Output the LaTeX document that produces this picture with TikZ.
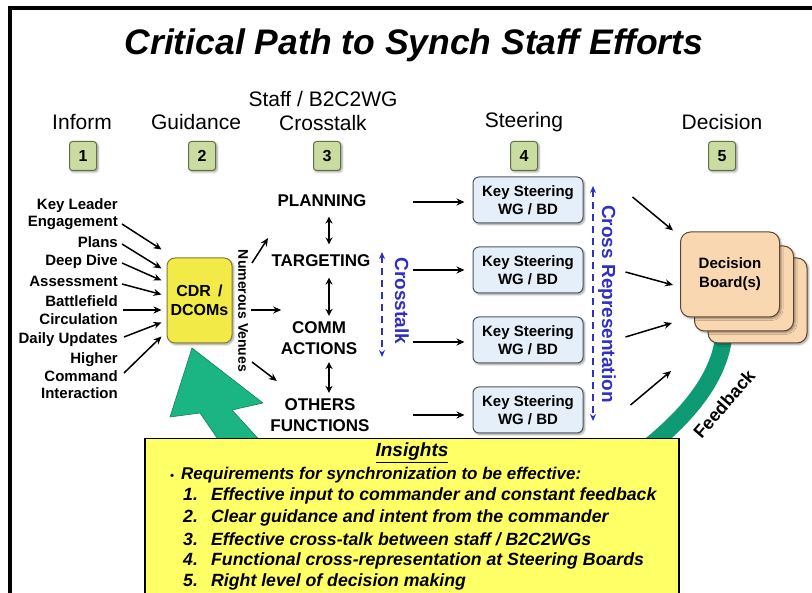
\documentclass[tikz,border=0pt]{standalone}
\usepackage{fontspec}
\setmainfont{Liberation Sans}
\usetikzlibrary{
  arrows.meta,
  calc,
  positioning,
  shadows.blur
}

\definecolor{numgreen}{HTML}{CADCA0}
\definecolor{numedge}{HTML}{5F6F48}
\definecolor{cdryellow}{HTML}{F2EA47}
\definecolor{cdredge}{HTML}{857D2C}
\definecolor{steerblue}{HTML}{E5EFFA}
\definecolor{steeredge}{HTML}{50585F}
\definecolor{decpeach}{HTML}{F9D7B0}
\definecolor{decedge}{HTML}{5C4632}
\definecolor{arrgreen}{HTML}{1BB584}
\definecolor{arredge}{HTML}{11805C}
\definecolor{fbgreen}{HTML}{0E9A72}
\definecolor{insyellow}{HTML}{FFFF66}
\definecolor{xblue}{HTML}{3030C0}

\begin{document}
\begin{tikzpicture}[x=1pt, y=-1pt]

\tikzset{
  hdr/.style={
    align=center,
    font=\fontsize{21}{24}\selectfont
  },
  numbox/.style={
    draw=numedge,
    fill=numgreen,
    rounded corners=3pt,
    line width=1pt,
    minimum width=27pt,
    minimum height=29pt,
    font=\fontsize{16}{18}\selectfont\bfseries,
    blur shadow={shadow xshift=1.5pt, shadow yshift=-1.5pt, shadow blur steps=5}
  },
  inp/.style={
    anchor=east,
    align=right,
    inner sep=0pt,
    font=\fontsize{15}{17.5}\selectfont\bfseries
  },
  func/.style={
    align=center,
    font=\fontsize{17}{21}\selectfont\bfseries
  },
  cdrbox/.style={
    draw=cdredge,
    fill=cdryellow,
    rounded corners=8pt,
    line width=1pt,
    minimum width=65pt,
    minimum height=85pt,
    align=center,
    font=\fontsize{16}{19}\selectfont\bfseries,
    blur shadow={shadow xshift=1.5pt, shadow yshift=-1.5pt, shadow blur steps=5}
  },
  steerbox/.style={
    draw=steeredge,
    fill=steerblue,
    rounded corners=6pt,
    line width=1pt,
    minimum width=110pt,
    minimum height=46pt,
    align=center,
    font=\fontsize{15}{18}\selectfont\bfseries,
    blur shadow={shadow xshift=1.5pt, shadow yshift=-1.5pt, shadow blur steps=5}
  },
  decbox/.style={
    draw=decedge,
    fill=decpeach,
    rounded corners=10pt,
    line width=1pt,
    minimum width=99pt,
    minimum height=85pt,
    align=center,
    font=\fontsize{15}{19}\selectfont\bfseries,
    blur shadow={shadow xshift=1.5pt, shadow yshift=-1.5pt, shadow blur steps=5}
  },
  bluelbl/.style={
    text=xblue,
    rotate=-90,
    font=\fontsize{19}{20}\selectfont\bfseries
  },
  ins/.style={
    anchor=west,
    inner sep=0pt,
    font=\fontsize{17.7}{20}\selectfont\bfseries\itshape
  },
  arr/.style={-{Stealth[length=8pt, width=7pt]}, line width=1.5pt},
  dbl/.style={{Stealth[length=7pt, width=7pt]}-{Stealth[length=7pt, width=7pt]}, line width=1.5pt},
  bluedash/.style={{Stealth[length=7pt, width=6pt]}-{Stealth[length=7pt, width=6pt]}, xblue, line width=1.5pt, dash pattern=on 7pt off 5pt}
}

\useasboundingbox (0,0) rectangle (812,593);

% Frame
\draw[line width=4pt] (10,600) -- (10,8) -- (820,8);

% Title
\node[font=\fontsize{35.5}{40}\selectfont\bfseries\itshape] (title) at (414,45) {Critical Path to Synch Staff Efforts};

% Headers
\node[hdr] (h1) at (82,122)  {Inform};
\node[hdr] (h2) at (196,122) {Guidance};
\node[hdr] (h3) at (323,111) {Staff / B2C2WG\\Crosstalk};
\node[hdr] (h4) at (524,122) {Steering};
\node[hdr] (h5) at (722,122) {Decision};

% Number boxes
\node[numbox] (n1) at (83,156)  {1};
\node[numbox] (n2) at (202,156) {2};
\node[numbox] (n3) at (327,156) {3};
\node[numbox] (n4) at (524,156) {4};
\node[numbox] (n5) at (722,156) {5};

% Nodes inputs
\node[inp] (klead)  at (118,214) {Key Leader\\Engagement};
\node[inp] (plans)  at (118,242) {Plans};
\node[inp] (deep)   at (118,262) {Deep Dive};
\node[inp] (assess) at (118,281) {Assessment};
\node[inp] (battle) at (118,310) {Battlefield\\Circulation};
\node[inp] (daily)  at (118,340) {Daily Updates};
\node[inp] (higher) at (118,376) {Higher\\Command\\Interaction};

% Feedback band and big arrow (behind boxes)
\draw[fbgreen, line width=17pt] (724,335) .. controls (720,372) and (696,410) .. (642,452);
\filldraw[fill=arrgreen, draw=arredge, line width=0.6pt]
  (192,348) -- (263,403) -- (232,410) -- (264,445) -- (222,445) -- (200,413) -- (170,417) -- cycle;

% Node commander
\node[cdrbox] (cdr) at (199.5,300.5) {CDR \,/\\DCOMs};
\node[rotate=-90, font=\fontsize{14}{16}\selectfont\bfseries] (venues) at (243,311) {Numerous Venues};

% Nodes staff functions
\node[func] (plan)   at (322,201) {PLANNING};
\node[func] (targ)   at (321,261) {TARGETING};
\node[func] (comm)   at (319,338) {COMM\\ACTIONS};
\node[func] (others) at (320,415) {OTHERS\\FUNCTIONS};

% Nodes steering
\node[steerbox] (s1) at (528,200) {Key Steering\\WG / BD};
\node[steerbox] (s2) at (528,270) {Key Steering\\WG / BD};
\node[steerbox] (s3) at (528,340) {Key Steering\\WG / BD};
\node[steerbox] (s4) at (528,410) {Key Steering\\WG / BD};

% Nodes decision boards
\node[decbox] (dec3) at (757.5,300.5) {};
\node[decbox] (dec2) at (744,288.5)   {};
\node[decbox] (dec1) at (730,274.5)   {Decision\\Board(s)};

\node[rotate=49, font=\fontsize{18}{20}\selectfont\bfseries] (fb) at (724,404) {Feedback};

% Blue labels
\node[bluelbl] (xtalk) at (402,301) {Crosstalk};
\node[bluelbl] (xrep)  at (607,304) {Cross Representation};
\coordinate (xttop) at (382,252);
\coordinate (xtbot) at (382,357);
\coordinate (xrtop) at (593,186);
\coordinate (xrbot) at (593,421);

% Arrows inputs
\draw[arr] ($(klead.east)+(4,10)$)  -- ($(cdr.west)+(-5,-51)$);
\draw[arr] ($(plans.east)+(4,2)$)   -- ($(cdr.west)+(-5,-32)$);
\draw[arr] ($(deep.east)+(4,1)$)    -- ($(cdr.west)+(-5,-20)$);
\draw[arr] ($(assess.east)+(4,3)$)  -- ($(cdr.west)+(-5,-6)$);
\draw[arr] ($(battle.east)+(5,0)$)  -- ($(cdr.west)+(-5,9.5)$);
\draw[arr] ($(daily.east)+(6,-3)$)  -- ($(cdr.west)+(-5,22)$);
\draw[arr] ($(higher.east)+(6,-3)$) -- ($(cdr.west)+(-5,36)$);

% Arrows venues
\draw[arr] ($(venues.center)+(9,-48)$) -- ($(targ.west)+(0,-23)$);
\draw[arr] ($(venues.center)+(8,-1)$)  -- ($(comm.west)+(4,-28)$);
\draw[arr] ($(venues.center)+(9,51)$)  -- ($(others.west)+(10,-34)$);

% Arrows crosstalk
\draw[dbl, shorten <=6pt, shorten >=7pt] ([xshift=7pt]plan.south) -- ([xshift=8pt]targ.north);
\draw[dbl, shorten <=7pt, shorten >=2pt] ([xshift=8pt]targ.south) -- ([xshift=10pt]comm.north);
\draw[dbl, shorten <=4pt, shorten >=2pt] ([xshift=10pt]comm.south) -- ([xshift=9pt]others.north);
\draw[bluedash] (xttop) -- (xtbot);
\draw[bluedash] (xrtop) -- (xrbot);

% Arrows to steering
\draw[arr] ($(s1.west)+(-60,2)$) -- ($(s1.west)+(-8,2)$);
\draw[arr] ($(s2.west)+(-60,0)$) -- ($(s2.west)+(-8,0)$);
\draw[arr] ($(s3.west)+(-60,2)$) -- ($(s3.west)+(-8,2)$);
\draw[arr] ($(s4.west)+(-60,5)$) -- ($(s4.west)+(-8,5)$);

% Arrows to decision
\draw[arr] ($(s1.east)+(49,-3)$) -- ($(dec1.west)+(-7,-44)$);
\draw[arr] ($(s2.east)+(42,2)$)  -- ($(dec1.west)+(-7,10.5)$);
\draw[arr] ($(s3.east)+(42,-3)$) -- ($(dec1.west)+(-8,48.5)$);
\draw[arr] ($(s4.east)+(47,-5)$) -- ($(dec1.west)+(-9,96.5)$);

% Insights
\node[draw=black, fill=insyellow, line width=1.5pt, minimum width=534pt, minimum height=175pt, anchor=north west, inner sep=0pt] (insbox) at (144,438) {};
\node[font=\fontsize{19}{20}\selectfont\bfseries\itshape] (institle) at (412,453) {\underline{Insights}};
\node[ins, font=\fontsize{17}{20}\selectfont\bfseries\itshape] (req) at (170,475) {{\fontsize{11}{11}\selectfont\textbullet}\hspace{7pt}Requirements for synchronization to be effective:};
\node[ins] (i1) at (183,496)   {\makebox[28pt][l]{1.}Effective input to commander and constant feedback};
\node[ins] (i2) at (183,517.5) {\makebox[28pt][l]{2.}Clear guidance and intent from the commander};
\node[ins] (i3) at (183,539)   {\makebox[28pt][l]{3.}Effective cross-talk between staff / B2C2WGs};
\node[ins] (i4) at (183,560.5) {\makebox[28pt][l]{4.}Functional cross-representation at Steering Boards};
\node[ins] (i5) at (183,582)   {\makebox[28pt][l]{5.}Right level of decision making};

\end{tikzpicture}
\end{document}
